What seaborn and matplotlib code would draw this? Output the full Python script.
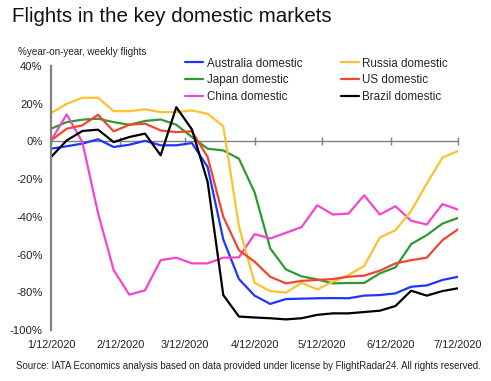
import pandas as pd
import matplotlib
matplotlib.use('Agg')
import matplotlib.pyplot as plt
import matplotlib.dates as mdates
import seaborn as sns

# weekly flights, % year-on-year, weeks starting 1/12/2020
weeks = pd.date_range('2020-01-12', periods=27, freq='7D')

australia = [-3.9, -2.6, -1.2, 1.1, -3.0, -1.8, 0.3, -2.1, -2.1, -0.9, -13.6, -52.0, -73.0,
             -81.8, -86.2, -83.6, -83.4, -83.2, -83.1, -83.2, -81.8, -81.5, -80.6, -77.1,
             -76.4, -73.5, -71.8]
russia = [15.0, 19.9, 23.1, 23.1, 16.0, 16.0, 17.0, 15.5, 15.5, 16.4, 14.6, 8.1, -45.0,
          -75.0, -79.4, -80.2, -75.0, -78.5, -74.4, -70.9, -66.1, -51.0, -47.1, -36.9,
          -22.4, -8.6, -5.1]
japan = [6.7, 10.2, 11.5, 12.0, 10.2, 8.8, 10.8, 11.6, 8.8, 2.3, -3.9, -4.8, -9.2,
         -27.0, -56.8, -67.9, -71.6, -73.2, -75.3, -75.1, -75.1, -70.0, -66.8, -54.5,
         -49.7, -43.6, -40.6]
us = [0.5, 6.7, 8.5, 14.1, 5.3, 8.8, 9.4, 5.8, 4.9, 5.3, -8.3, -40.0, -57.7,
      -63.8, -71.8, -75.3, -74.0, -73.5, -73.0, -71.8, -71.2, -68.6, -64.7, -63.0,
      -61.7, -52.4, -46.6]
china = [0.5, 14.3, -0.4, -38.0, -68.3, -81.3, -79.0, -63.0, -61.7, -64.7, -64.7, -61.7,
         -61.5, -49.2, -51.5, -48.5, -45.5, -33.9, -38.8, -38.3, -28.6, -38.8, -34.4,
         -42.1, -44.1, -33.3, -36.2]
brazil = [-8.3, 0.5, 5.5, 6.2, -0.4, 2.3, 4.1, -7.4, 18.1, 6.3, -21.5, -81.5, -92.9,
          -93.4, -93.8, -94.4, -93.8, -92.0, -91.2, -91.2, -90.5, -89.8, -87.3, -79.2,
          -81.8, -79.4, -77.9]

markets = ['Australia domestic', 'Japan domestic', 'China domestic',
           'Russia domestic', 'US domestic', 'Brazil domestic']
series = [australia, japan, china, russia, us, brazil]
colors = ['#1f35ff', '#2e9a2e', '#f545cf', '#fcc22e', '#f2452f', '#000000']

tick_dates = [pd.Timestamp(2020, m, 12) for m in range(1, 8)]
tick_labels = [f'{d.month}/{d.day}/{d.year}' for d in tick_dates]
y_ticks = [40, 20, 0, -20, -40, -60, -80, -100]

df = pd.concat([pd.DataFrame({'week': weeks, 'value': s, 'market': m})
                for m, s in zip(markets, series)], ignore_index=True)

sns.set_style('white')
plt.rcParams['font.family'] = ['Liberation Sans', 'DejaVu Sans']

fig = plt.figure(figsize=(4.91, 3.81), dpi=100)
ax = fig.add_axes([0.104, 0.134, 0.829, 0.693])

# zero line under the data
ax.axhline(0, color='#808080', linewidth=1, zorder=1)

sns.lineplot(data=df, x='week', y='value', hue='market', hue_order=markets,
             palette=colors, linewidth=1.6, ax=ax)

ax.set_xlim(weeks[0], weeks[-1])
ax.set_ylim(-100, 40)
ax.set_xticks(tick_dates)
ax.set_xticklabels(tick_labels)
ax.set_yticks(y_ticks)
ax.set_yticklabels([f'{v}%' for v in y_ticks])
ax.set_xlabel('')
ax.set_ylabel('')
ax.tick_params(axis='x', length=0, pad=7, labelsize=7.9, colors='#222222')
ax.tick_params(axis='y', length=4, width=1, color='#808080', pad=2,
               labelsize=8.1, labelcolor='#222222')
for side in ['top', 'right', 'bottom']:
    ax.spines[side].set_visible(False)
ax.spines['left'].set_color('#808080')
ax.spines['left'].set_linewidth(1.6)

# month ticks sitting on the zero line
zero = ax.secondary_xaxis(100 / 140)
zero.set_xticks(mdates.date2num(tick_dates))
zero.set_xticklabels([''] * len(tick_dates))
zero.tick_params(direction='inout', length=6, width=1, color='#808080')
for side in ['top', 'bottom', 'left', 'right']:
    zero.spines[side].set_visible(False)

handles, labels = ax.get_legend_handles_labels()
ax.get_legend().remove()
fig.legend(handles, labels, ncol=2, loc='upper left', bbox_to_anchor=(0.377, 0.849),
           frameon=False, fontsize=8.4, handlelength=1.55, handletextpad=0.3,
           columnspacing=3.3, labelspacing=0.4, borderpad=0, borderaxespad=0)

fig.text(0.024, 0.958, 'Flights in the key domestic markets', fontsize=14.8,
         ha='left', va='center', color='#111111')
fig.text(0.036, 0.863, '%year-on-year, weekly flights', fontsize=7.1,
         ha='left', va='center', color='#222222')
fig.text(0.033, 0.04, 'Source: IATA Economics analysis based on data provided under '
         'license by FlightRadar24. All rights reserved.', fontsize=6.9,
         ha='left', va='center', color='#222222')

fig.savefig('out.png', dpi=100)
